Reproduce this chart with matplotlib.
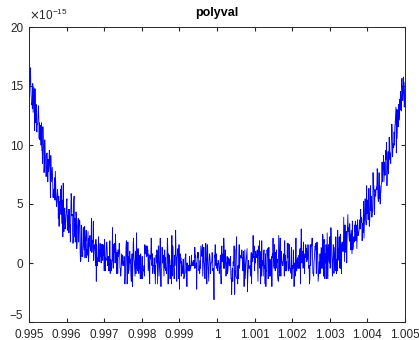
import numpy as np
import matplotlib
matplotlib.use("Agg")
import matplotlib.pyplot as plt

# Coefficients of the expanded polynomial (x-1)^6, evaluated with polyval
coeffs = [1, -6, 15, -20, 15, -6, 1]
x_start, x_end, n_points = 0.995, 1.005, 1001
x = np.linspace(x_start, x_end, n_points)
y = np.polyval(coeffs, x)

xticks = [0.995, 0.996, 0.997, 0.998, 0.999, 1.0, 1.001, 1.002, 1.003, 1.004, 1.005]
xticklabels = ["0.995", "0.996", "0.997", "0.998", "0.999", "1", "1.001", "1.002", "1.003", "1.004", "1.005"]
yticks = [-5, 0, 5, 10, 15, 20]
scale = 1e-15

plt.rcParams['font.family'] = ['Liberation Sans', 'DejaVu Sans']
fig = plt.figure(figsize=(4.19, 3.4), dpi=100)
ax = fig.add_axes([29/419, 18/340, 376/419, 295/340])
ax.plot(x, y / scale, color='#0000ff', linewidth=0.6)
ax.set_xlim(x_start, x_end)
ax.set_ylim(-5, 20)
ax.set_xticks(xticks)
ax.set_xticklabels(xticklabels)
ax.set_yticks(yticks)
ax.tick_params(direction='in', length=3, labelsize=8.5, colors='#262626', top=True, right=True)
ax.tick_params(axis='x', pad=5)
ax.tick_params(axis='y', pad=4)
ylabs = ax.get_yticklabels()
ylabs[0].set_verticalalignment('bottom')
for s in ax.spines.values():
    s.set_color('#262626')
    s.set_linewidth(0.7)
ax.set_title('polyval', fontsize=9, fontweight='bold', pad=8)
ax.text(0.0, 1.015, r'$\times\mathregular{10^{-15}}$', transform=ax.transAxes, fontsize=8.5,
        color='#262626', ha='left', va='bottom')
fig.savefig('out.png', dpi=100)
